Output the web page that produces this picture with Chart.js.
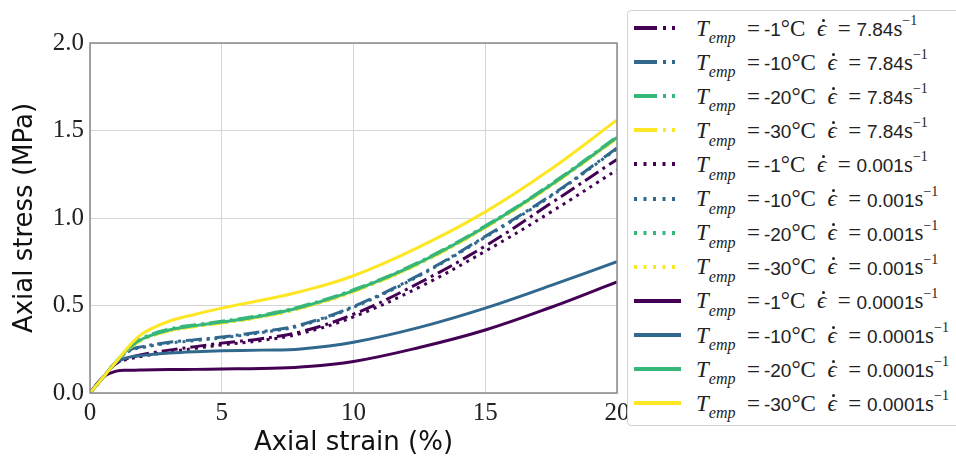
<!DOCTYPE html>
<html>
<head>
<meta charset="utf-8">
<script src="https://cdn.jsdelivr.net/npm/chart.js@4.4.1/dist/chart.umd.min.js"></script>
<style>
  body { margin: 0; width: 956px; height: 462px; overflow: hidden; background: #fff; }
  #wrap { position: relative; width: 956px; height: 462px; }
  #legend { position: absolute; left: 627px; top: 10px; width: 380px; height: 414px;
            border: 1px solid #d4d4d4; border-radius: 4px; background: #fff; }
  .row { position: absolute; left: 0; height: 34px; width: 100%; }
  .row svg { position: absolute; left: 6px; top: 14px; }
  .txt { position: absolute; left: 68px; top: 4px; white-space: nowrap; color: #222; }
  .m { font-family: "Liberation Serif", serif; font-size: 23px; }
  .s { font-family: "Liberation Sans", sans-serif; font-size: 19px; }
  .m sub { font-size: 16px; position: relative; top: 2px; }
  .m sup { font-size: 14px; position: relative; top: -2px; }
  .eps { position: relative; display: inline-block; }
  .eps b { position: absolute; left: 5px; top: 3px; width: 3px; height: 3px;
           border-radius: 50%; background: #222; }
</style>
</head>
<body>
<div id="wrap">
  <canvas id="chart1" width="956" height="462"></canvas>
  <div id="legend"></div>
</div>
<script>
// strain (%) sample points
const strain = [0, 0.5, 1, 1.5, 2, 3, 4, 5, 6.5, 8, 10, 12.5, 15, 17.5, 20];

// axial stress (MPa), strain rate 7.84 1/s
const t1_fast  = [0, 0.09, 0.17, 0.20, 0.22, 0.245, 0.265, 0.285, 0.31, 0.35, 0.45, 0.63, 0.84, 1.085, 1.335];
const t10_fast = [0, 0.09, 0.18, 0.245, 0.265, 0.29, 0.305, 0.32, 0.35, 0.39, 0.495, 0.675, 0.895, 1.13, 1.40];
const t20_fast = [0, 0.09, 0.18, 0.262, 0.315, 0.365, 0.39, 0.41, 0.445, 0.495, 0.59, 0.75, 0.955, 1.195, 1.465];
const t30_fast = [0, 0.09, 0.18, 0.255, 0.305, 0.355, 0.38, 0.40, 0.435, 0.485, 0.58, 0.74, 0.945, 1.185, 1.455];
// strain rate 0.001 1/s
const t1_mid  = [0, 0.09, 0.17, 0.195, 0.21, 0.235, 0.255, 0.275, 0.30, 0.34, 0.435, 0.605, 0.81, 1.035, 1.275];
const t10_mid = [0, 0.09, 0.18, 0.24, 0.26, 0.285, 0.30, 0.315, 0.345, 0.385, 0.49, 0.67, 0.89, 1.125, 1.395];
const t20_mid = [0, 0.09, 0.18, 0.256, 0.306, 0.356, 0.381, 0.401, 0.436, 0.486, 0.581, 0.741, 0.946, 1.186, 1.456];
const t30_mid = [0, 0.09, 0.18, 0.255, 0.305, 0.355, 0.38, 0.40, 0.435, 0.485, 0.58, 0.74, 0.945, 1.185, 1.455];
// strain rate 0.0001 1/s
const t1_slow  = [0, 0.09, 0.125, 0.13, 0.132, 0.134, 0.135, 0.137, 0.14, 0.148, 0.18, 0.26, 0.36, 0.49, 0.635];
const t10_slow = [0, 0.09, 0.175, 0.205, 0.215, 0.228, 0.236, 0.241, 0.245, 0.252, 0.29, 0.375, 0.485, 0.615, 0.75];
const t20_slow = [0, 0.09, 0.18, 0.26, 0.31, 0.36, 0.385, 0.405, 0.44, 0.49, 0.585, 0.745, 0.95, 1.19, 1.46];
const t30_slow = [0, 0.09, 0.18, 0.27, 0.34, 0.41, 0.45, 0.485, 0.53, 0.58, 0.67, 0.835, 1.035, 1.28, 1.56];

const temps = ['-1', '-10', '-20', '-30'];
const rates = ['7.84', '0.001', '0.0001'];
const colors = ['#440154', '#31688e', '#35b779', '#fde725'];
const dashes = [[16, 5, 3, 5], [3, 5], []];
const legendDash = ['23 6 3 6 3 40', '3 6.5', ''];

const series = [t1_fast, t10_fast, t20_fast, t30_fast,
                t1_mid, t10_mid, t20_mid, t30_mid,
                t1_slow, t10_slow, t20_slow, t30_slow];

let datasets = [];
series.forEach((vals, i) => {
    let r = Math.floor(i / 4), t = i % 4;
    datasets.push({
        label: 'T=' + temps[t] + ' rate=' + rates[r],
        data: vals.map((v, k) => ({x: strain[k], y: v})),
        borderColor: colors[t],
        borderWidth: 3,
        borderDash: dashes[r],
        borderCapStyle: 'butt',
        pointRadius: 0,
        fill: false,
        tension: 0.4,
        order: 12 - i   // later series drawn on top, as in the original
    });
});

// frame around the plot area
const frame = {
    id: 'frame',
    afterDatasetsDraw(chart) {
        const a = chart.chartArea, ctx = chart.ctx;
        ctx.save();
        ctx.strokeStyle = '#8a8a8a';
        ctx.lineWidth = 1.5;
        ctx.strokeRect(a.left, a.top, a.right - a.left, a.bottom - a.top);
        ctx.restore();
    }
};

let ctx1 = document.getElementById('chart1').getContext('2d');
let chart1 = new Chart(ctx1, {
    type: 'line',
    data: { datasets: datasets },
    options: {
        responsive: false,
        animation: false,
        devicePixelRatio: 1,
        layout: { padding: { left: 0, top: 43, right: 339, bottom: 0 } },
        plugins: { legend: { display: false }, tooltip: { enabled: false } },
        scales: {
            x: {
                type: 'linear', min: 0, max: 20,
                afterFit: (s) => { s.height = 69; },
                grid: { color: '#d6d6d6', drawTicks: false },
                border: { display: false },
                ticks: { stepSize: 5, padding: 5, color: '#222',
                         font: { family: 'Liberation Serif', size: 25 } },
                title: { display: true, text: 'Axial strain (%)', color: '#111',
                         padding: { top: 0, bottom: 3 },
                         font: { family: 'DejaVu Sans', size: 26 } }
            },
            y: {
                min: 0, max: 2,
                afterFit: (s) => { s.width = 90; },
                grid: { color: '#d6d6d6', drawTicks: false },
                border: { display: false },
                ticks: { stepSize: 0.5, padding: 6, color: '#222',
                         callback: (v) => v.toFixed(1),
                         font: { family: 'Liberation Serif', size: 25 } },
                title: { display: true, text: 'Axial stress (MPa)', color: '#111',
                         padding: { top: 10, bottom: 0 },
                         font: { family: 'DejaVu Sans', size: 26 } }
            }
        }
    },
    plugins: [frame]
});

// legend with the math-style labels
const legend = document.getElementById('legend');
series.forEach((vals, i) => {
    let r = Math.floor(i / 4), t = i % 4;
    let row = document.createElement('div');
    row.className = 'row';
    row.style.top = (i * 34.1) + 'px';
    let dash = legendDash[r] ? ' stroke-dasharray="' + legendDash[r] + '"' : '';
    row.innerHTML =
        '<svg width="48" height="6"><line x1="0" y1="3" x2="47" y2="3" stroke="' + colors[t] +
        '" stroke-width="4"' + dash + '/></svg>' +
        '<div class="txt"><span class="m"><i>T</i><sub><i>emp</i></sub>&nbsp;&nbsp;=</span> ' +
        '<span class="s">' + temps[t] + '</span><span class="m">°C&nbsp; ' +
        '<span class="eps"><i>ϵ</i><b></b></span>&nbsp; =&nbsp;</span>' +
        '<span class="s">' + rates[r] + '</span><span class="m">s<sup>−1</sup></span></div>';
    legend.appendChild(row);
});
</script>
</body>
</html>
